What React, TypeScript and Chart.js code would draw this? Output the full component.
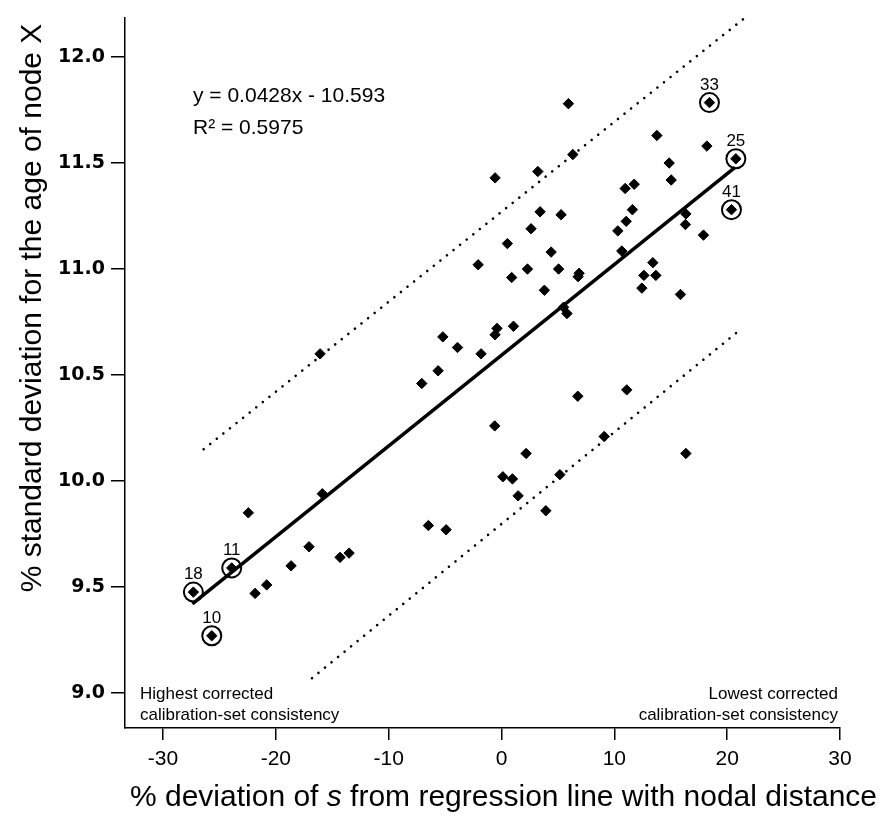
import React, { useEffect, useRef } from "react";
import { Chart, registerables } from "chart.js";

Chart.register(...registerables);

// ---- data ----
const pointX = [
  5.93, 13.77, 18.2, 6.32, 3.22, 14.86, 15.04, 10.96, 11.76, 11.6, 11.05, 10.31,
  3.42, 5.28, 2.62, 0.52, 4.4, 16.34, 16.3, 17.9, 10.66, 13.41, -0.57, -2.07,
  0.9, 2.3, 5.06, 6.88, 6.79, 12.62, 13.68, 12.44, 15.86, 3.8, 5.5, 5.8, -5.2,
  -3.9, -1.81, -0.4, -0.57, 1.06, -5.62, -7.07, -0.6, 0.12, 0.97, 2.18, 1.47,
  3.93, 5.17, 6.76, 9.1, 11.1, 16.34, -16.08, -15.88, -22.44, -6.48, -4.91,
  -17.06, -14.31, -13.51, -18.65, -20.81, -21.84,
];
const pointY = [
  11.78, 11.63, 11.58, 11.54, 11.46, 11.5, 11.42, 11.38, 11.4, 11.28, 11.225, 11.18,
  11.27, 11.256, 11.19, 11.12, 11.08, 11.26, 11.21, 11.16, 11.085, 11.03, 11.43, 11.02,
  10.96, 11.0, 11.0, 10.98, 10.964, 10.97, 10.97, 10.91, 10.88, 10.9, 10.82, 10.79, 10.68,
  10.63, 10.6, 10.72, 10.69, 10.73, 10.52, 10.46, 10.26, 10.02, 10.01, 10.13, 9.93,
  9.86, 10.03, 10.4, 10.21, 10.43, 10.13, 10.6, 9.94, 9.85, 9.79, 9.77,
  9.69, 9.64, 9.66, 9.6, 9.51, 9.47,
];
const circledX = [-25.68, -23.91, -27.31, 20.77, 18.43, 20.38];
const circledY = [9.27, 9.59, 9.476, 11.52, 11.785, 11.28];
const circledLabels = ["10", "11", "18", "25", "33", "41"];

const regressionX = [-27.4, 20.7];
const regressionY = [9.42, 11.48];
const upperX = [-26.4, 21.45];
const upperY = [10.15, 12.18];
const lowerX = [-16.8, 21.3];
const lowerY = [9.07, 10.72];

const xTicks = [-30, -20, -10, 0, 10, 20, 30];
const yTicks = [9.0, 9.5, 10.0, 10.5, 11.0, 11.5, 12.0];

const equationLines = ["y = 0.0428x - 10.593", "R\u00B2 = 0.5975"];
const leftNote = ["Highest corrected", "calibration-set consistency"];
const rightNote = ["Lowest corrected", "calibration-set consistency"];
const xTitleParts = ["% deviation of ", "s", " from regression line with nodal distance"];
const yTitle = "% standard deviation for the age of node X";

const toXY = (xs: number[], ys: number[]) => xs.map((x, i) => ({ x, y: ys[i] }));

const textPlugin = {
  id: "texts",
  afterDraw(chart: any) {
    const ctx = chart.ctx as CanvasRenderingContext2D;
    const xs = chart.scales.x;
    const ys = chart.scales.y;
    ctx.save();
    ctx.fillStyle = "#000";

    // point labels
    ctx.font = "17px 'Liberation Sans', Arial, sans-serif";
    ctx.textAlign = "center";
    ctx.textBaseline = "alphabetic";
    circledLabels.forEach((lab, i) => {
      const px = xs.getPixelForValue(circledX[i]);
      const py = ys.getPixelForValue(circledY[i]);
      ctx.fillText(lab, px, py - 13);
    });

    // equation
    ctx.textAlign = "left";
    ctx.font = "21px 'Liberation Sans', Arial, sans-serif";
    ctx.fillText(equationLines[0], 193, 102);
    ctx.fillText(equationLines[1], 193, 134);

    // corner notes
    ctx.font = "17px 'Liberation Sans', Arial, sans-serif";
    ctx.textAlign = "left";
    ctx.fillText(leftNote[0], 140, 699);
    ctx.fillText(leftNote[1], 140, 720);
    ctx.textAlign = "right";
    ctx.fillText(rightNote[0], 838, 699);
    ctx.fillText(rightNote[1], 838, 720);

    // x title with italic s
    const normal = "30px 'Liberation Sans', Arial, sans-serif";
    const italic = "italic 30px 'Liberation Sans', Arial, sans-serif";
    ctx.textAlign = "left";
    const fonts = [normal, italic, normal];
    let total = 0;
    const widths = xTitleParts.map((t, i) => {
      ctx.font = fonts[i];
      const w = ctx.measureText(t).width;
      total += w;
      return w;
    });
    let cx = 503.5 - total / 2;
    xTitleParts.forEach((t, i) => {
      ctx.font = fonts[i];
      ctx.fillText(t, cx, 806);
      cx += widths[i];
    });

    // y title
    ctx.translate(41, 308);
    ctx.rotate(-Math.PI / 2);
    ctx.font = normal;
    ctx.textAlign = "center";
    ctx.fillText(yTitle, 0, 0);
    ctx.restore();
  },
};

export default function App() {
  const ref = useRef<HTMLCanvasElement | null>(null);
  useEffect(() => {
    if (!ref.current) return;
    const allX = [...pointX, ...circledX];
    const allY = [...pointY, ...circledY];
    const chart = new Chart(ref.current, {
      type: "scatter",
      data: {
        datasets: [
          {
            data: toXY(allX, allY) as any,
            pointStyle: "rectRot",
            pointRadius: 5.2,
            backgroundColor: "#000",
            borderColor: "#000",
            borderWidth: 1,
          },
          {
            data: toXY(circledX, circledY) as any,
            pointStyle: "circle",
            pointRadius: 9.5,
            backgroundColor: "rgba(0,0,0,0)",
            borderColor: "#000",
            borderWidth: 2,
          },
          {
            data: toXY(regressionX, regressionY) as any,
            showLine: true,
            pointRadius: 0,
            borderColor: "#000",
            borderWidth: 3.5,
            borderCapStyle: "butt",
          },
          {
            data: toXY(upperX, upperY) as any,
            showLine: true,
            pointRadius: 0,
            borderColor: "#000",
            borderWidth: 2.6,
            borderCapStyle: "round",
            borderDash: [0.01, 8.4],
          },
          {
            data: toXY(lowerX, lowerY) as any,
            showLine: true,
            pointRadius: 0,
            borderColor: "#000",
            borderWidth: 2.6,
            borderCapStyle: "round",
            borderDash: [0.01, 8.4],
          },
        ],
      },
      options: {
        animation: false,
        responsive: true,
        maintainAspectRatio: false,
        layout: { padding: { top: 10, right: 43, left: 0, bottom: 0 } },
        plugins: {
          legend: { display: false },
          tooltip: { enabled: false },
          title: { display: false },
        },
        scales: {
          x: {
            type: "linear",
            min: -33.37,
            max: 30,
            afterBuildTicks: (s: any) => {
              s.ticks = xTicks.map((v) => ({ value: v }));
            },
            afterFit: (s: any) => {
              s.height = 89;
            },
            grid: {
              display: true,
              drawOnChartArea: false,
              drawTicks: true,
              tickLength: 12,
              color: "#000",
              lineWidth: 1.5,
            },
            border: { display: true, color: "#000", width: 1.5 },
            ticks: {
              color: "#000",
              font: { family: "'Liberation Sans', Arial, sans-serif", size: 21 },
              padding: 7,
              maxRotation: 0,
              autoSkip: false,
              callback: (v: any) => String(v),
            },
          },
          y: {
            type: "linear",
            min: 8.835,
            max: 12.187,
            afterBuildTicks: (s: any) => {
              s.ticks = yTicks.map((v) => ({ value: v }));
            },
            afterFit: (s: any) => {
              s.width = 125;
            },
            grid: {
              display: true,
              drawOnChartArea: false,
              drawTicks: true,
              tickLength: 14,
              color: "#000",
              lineWidth: 1.5,
            },
            border: { display: true, color: "#000", width: 1.5 },
            ticks: {
              color: "#000",
              font: { family: "'DejaVu Sans', sans-serif", size: 19, weight: "bold" },
              padding: 6,
              autoSkip: false,
              callback: (v: any) => Number(v).toFixed(1),
            },
          },
        },
      } as any,
      plugins: [textPlugin],
    });
    return () => chart.destroy();
  }, []);
  return (
    <div style={{ position: "fixed", left: 0, top: 0, width: 883, height: 817, background: "#fff" }}>
      <canvas ref={ref} />
    </div>
  );
}
